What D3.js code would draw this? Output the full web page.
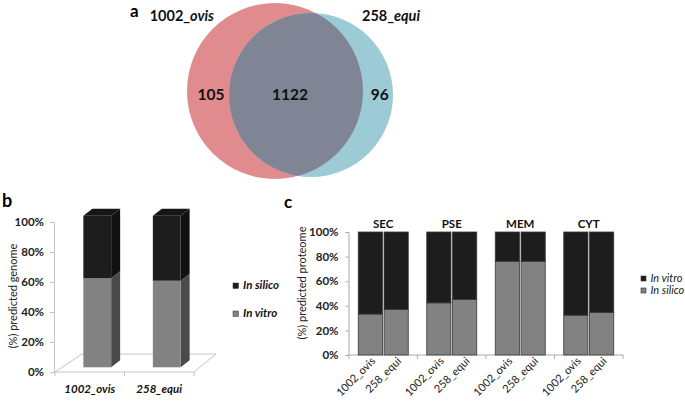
<!DOCTYPE html>
<html>
<head>
<meta charset="utf-8">
<script src="https://cdn.jsdelivr.net/npm/d3@7"></script>
<style>
  html, body { margin: 0; padding: 0; background: #fff; }
  svg { display: block; font-family: Lato, "Open Sans", "Liberation Sans", sans-serif; }
</style>
</head>
<body>
<svg id="chart" width="685" height="401"></svg>
<script>
// ---------------- DATA ----------------
const vennSets = ["1002_", "258_"];
const vennSpecies = ["ovis", "equi"];
const vennCounts = [105, 1122, 96];          // only ovis, shared, only equi

const bStrains = ["1002_ovis", "258_equi"];
const bInVitro = [0.587, 0.571];
const bInSilico = [0.413, 0.429];
const bLegend = ["In silico", "In vitro"];

const cGroups = ["SEC", "PSE", "MEM", "CYT"];
const cStrains = ["1002_ovis", "258_equi"];
const cInSilico = [[0.333, 0.371], [0.424, 0.452], [0.762, 0.762], [0.324, 0.346]];
const cInVitro  = [[0.667, 0.629], [0.576, 0.548], [0.238, 0.238], [0.676, 0.654]];
const cLegend = ["In vitro", "In silico"];

const yTicks = [0, 0.2, 0.4, 0.6, 0.8, 1];

// ---------------- SETUP ----------------
const svg = d3.select("#chart");
const pct = d3.format(".0%");
const BLACK = "#1d1d1d", GRAY = "#828282";

// ================= PANEL A : VENN =================
const vx = d3.scaleLinear().domain([-1, 1]).range([187, 363]);
const vy = d3.scaleLinear().domain([-1, 1]).range([3, 179]);
const vr = d3.scaleLinear().domain([0, 1]).range([0, 88]);
const vennCircles = [
  { cx: vx(0), cy: vy(0), r: vr(1), fill: "#e08c8e" },
  { cx: vx(0.409), cy: vy(0.045), r: vr(0.932), fill: "#9ccbd6" }
];
const defs = svg.append("defs");
defs.append("clipPath").attr("id", "clipLeft")
  .append("circle").attr("cx", vennCircles[0].cx).attr("cy", vennCircles[0].cy).attr("r", vennCircles[0].r);

const ga = svg.append("g");
ga.selectAll("circle.set").data(vennCircles).join("circle")
  .attr("class", "set")
  .attr("cx", d => d.cx).attr("cy", d => d.cy).attr("r", d => d.r)
  .attr("fill", d => d.fill);
ga.append("circle")
  .attr("cx", vennCircles[1].cx).attr("cy", vennCircles[1].cy).attr("r", vennCircles[1].r)
  .attr("fill", "#7f8595").attr("clip-path", "url(#clipLeft)");

// counts
const countX = [vx(-0.727), vx(0.17), vx(1.19)];
ga.selectAll("text.count").data(vennCounts).join("text")
  .attr("class", "count")
  .attr("x", (d, i) => countX[i]).attr("y", 100)
  .attr("text-anchor", "middle")
  .attr("font-size", 15.5).attr("font-weight", "bold").attr("fill", "#111")
  .text(d => d);

// set labels
const setLabelX = [214, 362];
const setAnchor = ["end", "start"];
vennSets.forEach((s, i) => {
  const t = ga.append("text").attr("x", setLabelX[i]).attr("y", 21)
    .attr("text-anchor", setAnchor[i]).attr("font-size", 14.5).attr("font-weight", "bold").attr("fill", "#111");
  t.append("tspan").text(s);
  t.append("tspan").attr("font-style", "italic").text(vennSpecies[i]);
});
svg.append("text").attr("x", 130).attr("y", 17).attr("font-size", 17).attr("font-weight", "bold").text("a");

// ================= PANEL B : 3D STACKED =================
const gb = svg.append("g");
gb.append("text").attr("x", 2).attr("y", 207).attr("font-size", 18).attr("font-weight", "bold").text("b");

const yB = d3.scaleLinear().domain([0, 1]).range([372, 222]);
const yBF = d3.scaleLinear().domain([0, 1]).range([367.3, 215.7]);
const xB = d3.scaleBand().domain(bStrains).range([55, 194]).paddingInner(0.6).paddingOuter(0.3);
const shiftX = 7.5, depX = 9, depY = -7;

// floor
const floorBackY = 354;
gb.append("path")
  .attr("d", `M${xB.range()[0]},${yB(0)} L${xB.range()[1]},${yB(0)} L${xB.range()[1] + 22},${floorBackY} L${xB.range()[0] + 27},${floorBackY} Z`)
  .attr("fill", "none").attr("stroke", "#c4c4c4").attr("stroke-width", 1);

// y axis
const axB = d3.axisLeft(yB).tickValues(yTicks).tickFormat(pct).tickSize(4).tickPadding(6);
const gAxB = gb.append("g").attr("transform", "translate(54,0)").call(axB);
gAxB.select(".domain").attr("stroke", "#c4c4c4");
gAxB.selectAll(".tick line").attr("stroke", "#c4c4c4");
gAxB.selectAll(".tick text").attr("font-size", 11.5).attr("font-weight", "bold").attr("fill", "#222")
  .attr("font-family", "Lato, sans-serif");

// x ticks
const xbTicks = [xB.range()[0], (xB.range()[0] + xB.range()[1]) / 2, xB.range()[1]];
gb.selectAll("line.xt").data(xbTicks).join("line")
  .attr("x1", d => d).attr("x2", d => d).attr("y1", yB(0)).attr("y2", yB(0) + 4)
  .attr("stroke", "#c4c4c4");
gb.selectAll("text.xl").data(bStrains).join("text")
  .attr("x", d => xB(d) + xB.bandwidth() / 2).attr("y", 393)
  .attr("text-anchor", "middle").attr("font-size", 11.5).attr("font-weight", "bold").attr("font-style", "italic")
  .attr("fill", "#111").text(d => d);

// bars
const bw = xB.bandwidth();
bStrains.forEach((s, i) => {
  const segs = [
    { y0: 0, y1: bInVitro[i], front: GRAY, side: "#4a4a4a", top: "#6a6a6a" },
    { y0: bInVitro[i], y1: bInVitro[i] + bInSilico[i], front: BLACK, side: "#111", top: "#161616" }
  ];
  const x0 = xB(s) + shiftX, x1 = x0 + bw;
  segs.forEach((sg, k) => {
    const yt = yBF(sg.y1), yb = yBF(sg.y0);
    gb.append("path")
      .attr("d", `M${x1},${yt} L${x1 + depX},${yt + depY} L${x1 + depX},${yb + depY} L${x1},${yb} Z`)
      .attr("fill", sg.side);
    gb.append("rect").attr("x", x0).attr("y", yt).attr("width", bw).attr("height", yb - yt).attr("fill", sg.front);
    if (k === segs.length - 1) {
      gb.append("path")
        .attr("d", `M${x0},${yt} L${x0 + depX},${yt + depY} L${x1 + depX},${yt + depY} L${x1},${yt} Z`)
        .attr("fill", sg.top);
    }
  });
});

// y title
gb.append("text").attr("transform", "translate(17,296) rotate(-90)")
  .attr("text-anchor", "middle").attr("font-size", 11).attr("fill", "#222")
  .text("(%) predicted genome");

// legend b
const legBY = d3.scalePoint().domain(bLegend).range([283, 311]);
const legBColor = d3.scaleOrdinal().domain(bLegend).range([BLACK, GRAY]);
bLegend.forEach(l => {
  gb.append("rect").attr("x", 233).attr("y", legBY(l)).attr("width", 5.5).attr("height", 5.5)
    .attr("fill", legBColor(l)).attr("stroke", "#333").attr("stroke-width", 0.5);
  gb.append("text").attr("x", 243).attr("y", legBY(l) + 6).attr("font-size", 11.5)
    .attr("font-weight", "bold").attr("font-style", "italic").attr("fill", "#111").text(l);
});

// ================= PANEL C =================
const gc = svg.append("g");
gc.append("text").attr("x", 284).attr("y", 208).attr("font-size", 17).attr("font-weight", "bold").text("c");

const yC = d3.scaleLinear().domain([0, 1]).range([355, 232]);
const xC = d3.scaleBand().domain(cGroups).range([349, 623]).paddingInner(0.27).paddingOuter(0.135);
const xIn = d3.scaleBand().domain(cStrains).range([0, xC.bandwidth()]).paddingInner(0.06);

const axC = d3.axisLeft(yC).tickValues(yTicks).tickFormat(pct).tickSize(3).tickPadding(7);
const gAxC = gc.append("g").attr("transform", "translate(348.5,0)").call(axC);
gAxC.select(".domain").attr("stroke", "#aaa");
gAxC.selectAll(".tick line").attr("stroke", "#aaa");
gAxC.selectAll(".tick text").attr("font-size", 11.5).attr("font-weight", "bold").attr("fill", "#222")
  .attr("font-family", "Lato, sans-serif");

// x axis line + ticks at band boundaries
gc.append("line").attr("x1", 349).attr("x2", 623).attr("y1", yC(0)).attr("y2", yC(0)).attr("stroke", "#aaa");
const xcTicks = cGroups.map(g => xC(g) - xC.step() * xC.paddingInner() / 2).concat([623]);
xcTicks[0] = 349;
gc.selectAll("line.xct").data(xcTicks).join("line")
  .attr("x1", d => d).attr("x2", d => d).attr("y1", yC(0)).attr("y2", yC(0) + 4).attr("stroke", "#aaa");

// bars
cGroups.forEach((g, gi) => {
  cStrains.forEach((s, si) => {
    const x = xC(g) + xIn(s), w = xIn.bandwidth();
    const a = cInSilico[gi][si], b = cInVitro[gi][si];
    gc.append("rect").attr("x", x).attr("y", yC(a)).attr("width", w).attr("height", yC(0) - yC(a))
      .attr("fill", GRAY).attr("stroke", "#3a3a3a").attr("stroke-width", 0.8);
    gc.append("rect").attr("x", x).attr("y", yC(a + b)).attr("width", w).attr("height", yC(a) - yC(a + b))
      .attr("fill", BLACK).attr("stroke", "#3a3a3a").attr("stroke-width", 0.8);
    gc.append("text")
      .attr("transform", `translate(${x + w / 2 + 3},${yC(0) + 4}) rotate(-45)`)
      .attr("text-anchor", "end").attr("font-size", 11).attr("fill", "#1a1a1a")
      .attr("dy", "0.35em")
      .text(s);
  });
  gc.append("text").attr("x", xC(g) + xC.bandwidth() / 2).attr("y", 228)
    .attr("text-anchor", "middle").attr("font-size", 11.5).attr("font-weight", "bold").attr("fill", "#111")
    .text(g);
});

// y title
gc.append("text").attr("transform", "translate(306,283) rotate(-90)")
  .attr("text-anchor", "middle").attr("font-size", 11).attr("fill", "#222")
  .text("(%) predicted proteome");

// legend c
const legCY = d3.scalePoint().domain(cLegend).range([276, 288]);
const legCColor = d3.scaleOrdinal().domain(cLegend).range([BLACK, GRAY]);
cLegend.forEach(l => {
  gc.append("rect").attr("x", 641).attr("y", legCY(l)).attr("width", 5).attr("height", 5)
    .attr("fill", legCColor(l)).attr("stroke", "#333").attr("stroke-width", 0.6);
  gc.append("text").attr("x", 650.5).attr("y", legCY(l) + 5.5).attr("font-size", 11)
    .attr("font-style", "italic").attr("fill", "#222").text(l);
});
</script>
</body>
</html>
